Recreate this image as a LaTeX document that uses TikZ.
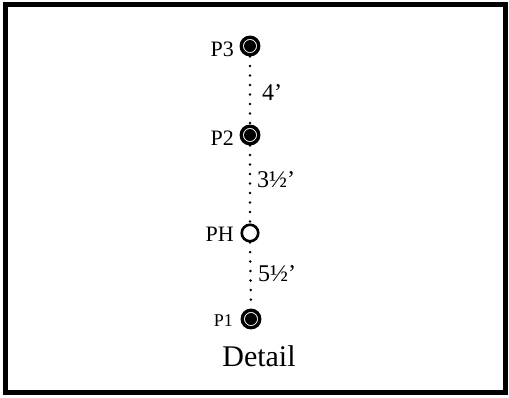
\documentclass[tikz,border=0pt]{standalone}
\usepackage{fontspec}
\setmainfont{Liberation Serif}
\begin{document}
\begin{tikzpicture}[x=1pt,y=-1pt,
  solidpt/.style={circle,draw=black,line width=3.4pt,fill=white,inner sep=0pt,minimum size=17.5pt,
    path picture={\fill[black] (path picture bounding box.center) circle (6pt);}},
  openpt/.style={circle,draw=black,line width=2.6pt,fill=white,inner sep=0pt,minimum size=16.5pt},
  plabel/.style={anchor=base east,inner sep=0pt,font=\fontsize{22}{24}\selectfont},
  dlabel/.style={anchor=base west,inner sep=0pt,font=\fontsize{24}{26}\selectfont},
  dots/.style={line width=2.8pt,line cap=round,dash pattern=on 0pt off 9.5pt}]
\useasboundingbox (0,0) rectangle (509,397);
\draw[line width=5pt] (5,4.5) rectangle (505,392);
\node[solidpt] (p3) at (250,46) {};
\node[solidpt] (p2) at (250,135) {};
\node[openpt] (ph) at (250,233) {};
\node[solidpt] (p1) at (251,319) {};
\draw[dots] (p3.south) -- (p2.north);
\draw[dots] (p2.south) -- (ph.north);
\draw[dots] (ph.south) -- (p1.north);
\node[plabel] (l3) at (234,56) {P3};
\node[plabel] (l2) at (234,145) {P2};
\node[plabel] (lh) at (234,241) {PH};
\node[plabel,font=\fontsize{18}{20}\selectfont] (l1) at (233,326) {P1};
\node[dlabel] (d1) at (262,100) {4’};
\node[dlabel] (d2) at (257,187) {3½’};
\node[dlabel] (d3) at (258,281) {5½’};
\node[anchor=base,inner sep=0pt,font=\fontsize{30}{32}\selectfont] (det) at (259,366) {Detail};
\end{tikzpicture}
\end{document}
